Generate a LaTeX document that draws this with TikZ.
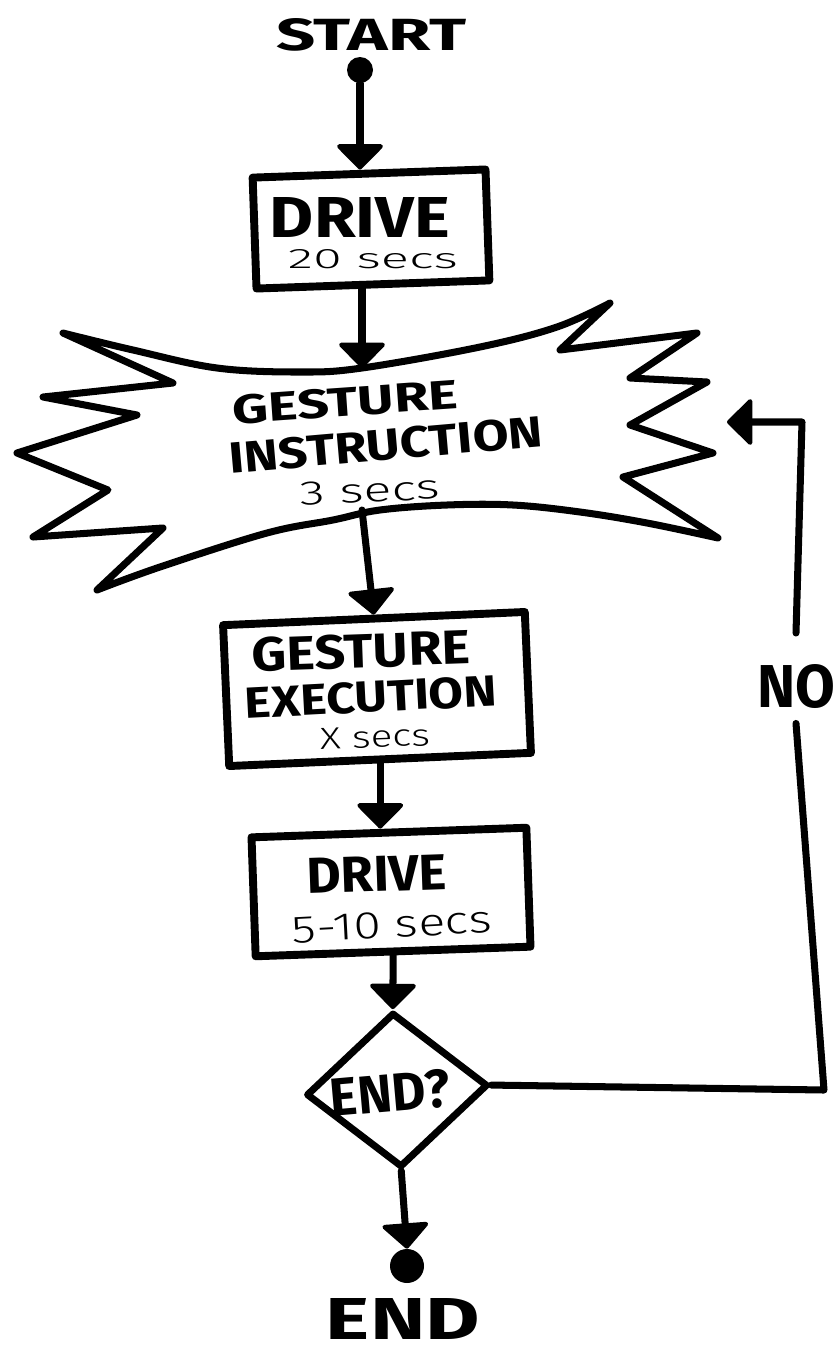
\documentclass[tikz,border=0pt]{standalone}
\usepackage{fontspec}
\setmainfont{Fira Sans}
\newfontfamily\secsfont{Fira Sans Light}
\usepackage{graphicx}
\usetikzlibrary{arrows.meta, shapes.geometric}

\newlength{\px}
\setlength{\px}{0.02cm}
\newcommand{\fitto}[3]{\resizebox{#1\px}{#2\px}{#3}}

\begin{document}
\begin{tikzpicture}[x=0.02cm, y=-0.02cm, line join=round, line cap=round,
  box/.style={draw, line width=4.5pt, inner sep=0pt},
  flow/.style={line width=4pt, -{Triangle[length=15pt, width=29pt, line width=2.5pt, round]}},
  wire/.style={line width=4pt},
  dot/.style={circle, fill, inner sep=0pt},
  lbl/.style={inner sep=0pt, font=\bfseries},
  sub/.style={inner sep=0pt, font=\secsfont}]
  \useasboundingbox (0,0) rectangle (836,1346);

  % start
  \node[lbl] (start) at (371,35) {\fitto{190}{32}{START}};
  \node[dot, minimum size=26\px] (startdot) at (360,70) {};

  % drive 20 secs
  \node[box, minimum width=233\px, minimum height=111\px, rotate=2] (drive1) at (371,229) {};
  \node[lbl] (drive1txt) at (360,217) {\fitto{180}{40}{DRIVE}};
  \node[sub] (drive1sec) at (373,259) {\fitto{170}{19}{20 secs}};

  % gesture instruction banner
  \draw[wire] (63,333) -- plot[smooth, tension=0.6] coordinates {(63,333) (133,350) (217,368) (300,372) (362,368) (480,347) (557,327) (610,303)}
    -- (560,350) -- (697,333) -- (630,378) -- (707,382) -- (630,425) -- (713,453) -- (623,477) -- (718,538)
    -- plot[smooth, tension=0.6] coordinates {(718,538) (647,523) (580,512) (513,505) (447,505) (380,510) (333,520) (267,533) (160,567) (97,590)}
    -- (163,528) -- (33,537) -- (108,490) -- (17,453) -- (137,415) -- (43,397) -- (173,383) -- cycle;
  \coordinate (bannertop) at (362,368);
  \coordinate (bannerbot) at (362,510);
  \coordinate (bannertip) at (727,422);
  \node[lbl, rotate=4] (instr1) at (345,402) {\fitto{226}{29}{GESTURE}};
  \node[lbl, rotate=5] (instr2) at (386,445) {\fitto{315}{31}{INSTRUCTION}};
  \node[sub, rotate=3] (instrsec) at (370,491) {\fitto{140}{23}{3 secs}};

  % gesture execution
  \node[box, minimum width=302\px, minimum height=141\px, rotate=2.5] (exec) at (377,689) {};
  \node[lbl, rotate=2] (exec1) at (361,651) {\fitto{218}{34}{GESTURE}};
  \node[lbl, rotate=3] (exec2) at (371,697) {\fitto{252}{31}{EXECUTION}};
  \node[sub, rotate=2] (execsec) at (375,737) {\fitto{110}{21}{X secs}};

  % drive 5-10 secs
  \node[box, minimum width=275\px, minimum height=119\px, rotate=2] (drive2) at (391,892) {};
  \node[lbl, rotate=2] (drive2txt) at (377,874) {\fitto{140}{35}{DRIVE}};
  \node[sub, rotate=3] (drive2sec) at (392,925) {\fitto{200}{26}{5-10 secs}};

  % decision
  \node[diamond, draw, line width=4pt, inner sep=0pt, minimum width=182\px, minimum height=155\px, rotate=3] (dec) at (397,1090) {};
  \node[lbl, rotate=5] (dectxt) at (390,1093) {\fitto{120}{38}{END?}};

  % end
  \node[dot, minimum size=34\px] (enddot) at (407,1266) {};
  \node[lbl] (end) at (403,1319) {\fitto{154}{41}{END}};

  % loop back
  \node[lbl] (no) at (796,687) {\fitto{78}{43}{NO}};
  \coordinate (loopbot) at (824,1090);
  \coordinate (looptop) at (802,422);

  \draw[flow] (startdot) -- (startdot |- drive1.north);
  \draw[flow] (drive1.south -| bannertop) -- (bannertop);
  \draw[flow] (bannerbot) -- (exec.north);
  \draw[flow] (exec.south) -- (exec.south |- drive2.north);
  \draw[flow] (drive2.south) -- (dec.north);
  \draw[flow] (dec.south) -- (enddot.north);
  \draw[wire] (dec.east) -- (loopbot) -- ([yshift=-8pt]no.south);
  \draw[flow] ([yshift=18pt]no.north) -- (looptop) -- (bannertip);
\end{tikzpicture}
\end{document}
